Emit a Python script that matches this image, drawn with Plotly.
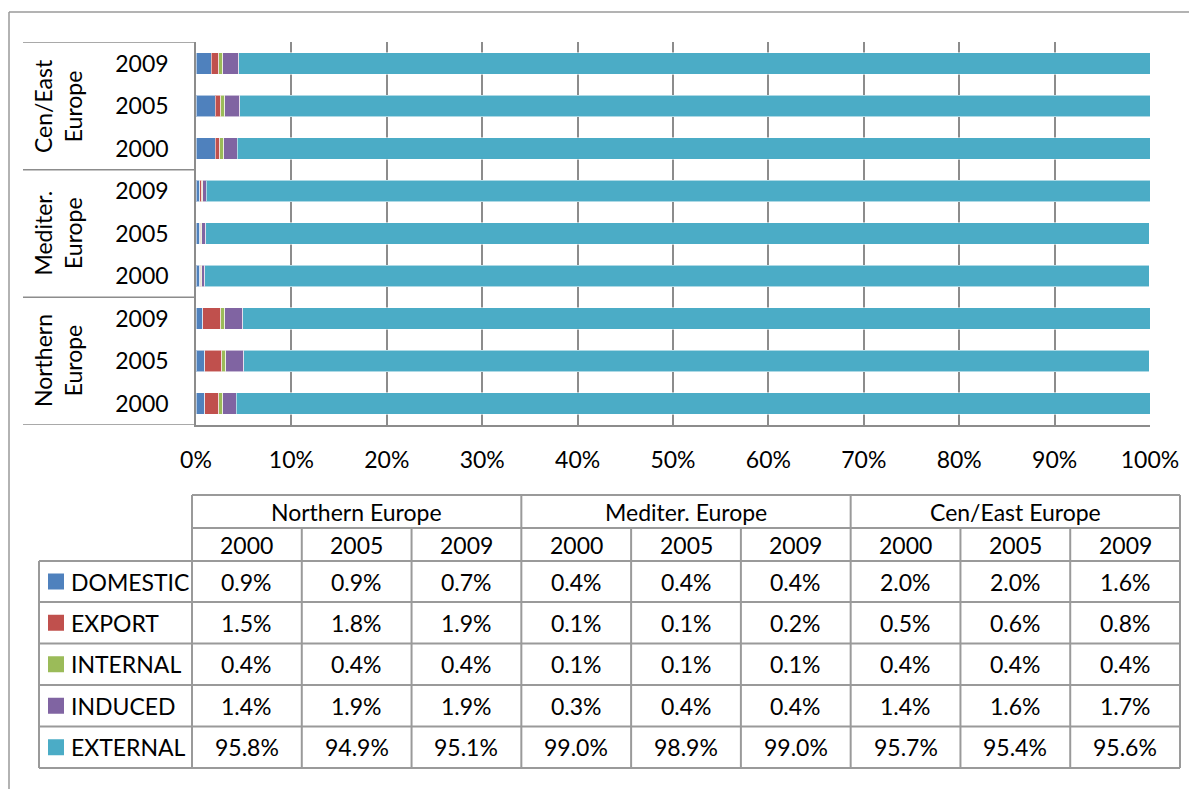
import plotly.graph_objects as go

# ---------------- data ----------------
regions = ["Northern Europe", "Mediter. Europe", "Cen/East Europe"]
region_axis_labels = ["Northern<br>Europe", "Mediter.<br>Europe", "Cen/East<br>Europe"]
years = ["2000", "2005", "2009"]
series_names = ["DOMESTIC", "EXPORT", "INTERNAL", "INDUCED", "EXTERNAL"]
series_colors = ["#4F81BD", "#C0504D", "#9BBB59", "#8064A2", "#4BACC6"]

# order: Northern 2000/2005/2009, Mediter 2000/2005/2009, Cen/East 2000/2005/2009
domestic = [0.9, 0.9, 0.7, 0.4, 0.4, 0.4, 2.0, 2.0, 1.6]
export = [1.5, 1.8, 1.9, 0.1, 0.1, 0.2, 0.5, 0.6, 0.8]
internal = [0.4, 0.4, 0.4, 0.1, 0.1, 0.1, 0.4, 0.4, 0.4]
induced = [1.4, 1.9, 1.9, 0.3, 0.4, 0.4, 1.4, 1.6, 1.7]
external = [95.8, 94.9, 95.1, 99.0, 98.9, 99.0, 95.7, 95.4, 95.6]
series_values = [domestic, export, internal, induced, external]

x_ticks = [0, 10, 20, 30, 40, 50, 60, 70, 80, 90, 100]

# ---------------- layout helpers ----------------
# the page body has an 8px default margin, so the figure starts at (8, 8) on screen
OFF = 8
W, H = 1197 - OFF, 789 - OFF
FONT = "Lato"
FS = 23
GRID = "#8c8c8c"
LINE = "#9a9a9a"


def px(x):
    return (x - OFF) / W


def py(y):
    return 1 - (y - OFF) / H


n_cat = len(regions) * len(years)
y_pos = list(range(n_cat))
y_text = [yr for _ in regions for yr in years]

fig = go.Figure()
for name, color, vals in zip(series_names, series_colors, series_values):
    fig.add_trace(go.Bar(
        y=y_pos, x=vals, name=name, orientation="h",
        marker=dict(color=color, line=dict(color="rgba(255,255,255,0.55)", width=1)),
        showlegend=False,
    ))

plot_left, plot_right, plot_top, plot_bottom = 196, 1150, 42.3, 424.8

fig.update_layout(
    width=W, height=H, autosize=False,
    margin=dict(l=0, r=0, t=0, b=0, pad=0, autoexpand=False),
    paper_bgcolor="white", plot_bgcolor="white",
    barmode="stack", bargap=0.49,
    font=dict(family=FONT, size=FS, color="#000000"),
    xaxis=dict(
        domain=[px(plot_left), px(plot_right)], range=[0, 100],
        tickvals=x_ticks, ticktext=[f"{v}%" for v in x_ticks],
        showgrid=True, gridcolor=GRID, gridwidth=1.5,
        showline=True, linecolor=GRID, linewidth=1.5,
        ticks="", zeroline=False, ticklabelstandoff=14, automargin=False,
        tickfont=dict(family=FONT, size=FS),
    ),
    yaxis=dict(
        domain=[py(plot_bottom), py(plot_top)], range=[-0.5, n_cat - 0.5],
        tickvals=y_pos, ticktext=y_text,
        showgrid=False, zeroline=False,
        showline=True, linecolor=GRID, linewidth=1.5,
        ticks="", ticklabelstandoff=21, automargin=False,
        tickfont=dict(family=FONT, size=FS),
    ),
)

shapes = []
annotations = []

# outer chart border (top and left visible)
shapes.append(dict(type="line", xref="paper", yref="paper", x0=px(9), x1=1.0, y0=py(12), y1=py(12),
                   line=dict(color=LINE, width=1.5)))
shapes.append(dict(type="line", xref="paper", yref="paper", x0=px(9), x1=px(9), y0=py(12), y1=0,
                   line=dict(color=LINE, width=1.5)))

# category group box lines
for yb in [n_cat - 0.5, 5.5, 2.5, -0.5]:
    shapes.append(dict(type="line", xref="paper", yref="y", x0=px(23), x1=px(plot_left), y0=yb, y1=yb,
                       line=dict(color=GRID, width=1.5)))

# group labels
for gi, lab in enumerate(region_axis_labels):
    annotations.append(dict(xref="paper", yref="y", x=px(58), y=gi * 3 + 1, text=lab, showarrow=False,
                            textangle=-90, xanchor="center", yanchor="middle",
                            font=dict(family=FONT, size=FS)))

# ---------------- data table ----------------
col_left = 192
col_w = (1180 - 192) / 9
col_edges = [col_left + i * col_w for i in range(10)]
leg_left = 39
row_y = [495, 528, 561, 602, 643.5, 685, 726.5, 768]


def hline(x0, x1, y):
    shapes.append(dict(type="line", xref="paper", yref="paper", x0=px(x0), x1=px(x1), y0=py(y), y1=py(y),
                       line=dict(color=LINE, width=2)))


def vline(x, y0, y1):
    shapes.append(dict(type="line", xref="paper", yref="paper", x0=px(x), x1=px(x), y0=py(y0), y1=py(y1),
                       line=dict(color=LINE, width=2)))


hline(col_edges[0], col_edges[-1], row_y[0])
hline(col_edges[0], col_edges[-1], row_y[1])
for ry in row_y[2:]:
    hline(leg_left, col_edges[-1], ry)
vline(leg_left, row_y[2], row_y[-1])
for i, cx in enumerate(col_edges):
    if i % 3 == 0:
        vline(cx, row_y[0], row_y[-1])
    else:
        vline(cx, row_y[1], row_y[-1])


def text(x, y, s, anchor="center"):
    annotations.append(dict(xref="paper", yref="paper", x=px(x), y=py(y), text=s, showarrow=False,
                            xanchor=anchor, yanchor="middle", font=dict(family=FONT, size=FS)))


for ri, reg in enumerate(regions):
    text((col_edges[ri * 3] + col_edges[ri * 3 + 3]) / 2, (row_y[0] + row_y[1]) / 2, reg)
    for yi, yr in enumerate(years):
        c = ri * 3 + yi
        text((col_edges[c] + col_edges[c + 1]) / 2, (row_y[1] + row_y[2]) / 2, yr)

for si, (name, color, vals) in enumerate(zip(series_names, series_colors, series_values)):
    yc = (row_y[2 + si] + row_y[3 + si]) / 2
    shapes.append(dict(type="rect", xref="paper", yref="paper", x0=px(48), x1=px(64),
                       y0=py(yc - 8), y1=py(yc + 8), fillcolor=color, line=dict(width=0)))
    text(69, yc, name, anchor="left")
    for c, v in enumerate(vals):
        text((col_edges[c] + col_edges[c + 1]) / 2, yc, f"{v:.1f}%")

fig.update_layout(shapes=shapes, annotations=annotations)
fig.write_html("out.html")
